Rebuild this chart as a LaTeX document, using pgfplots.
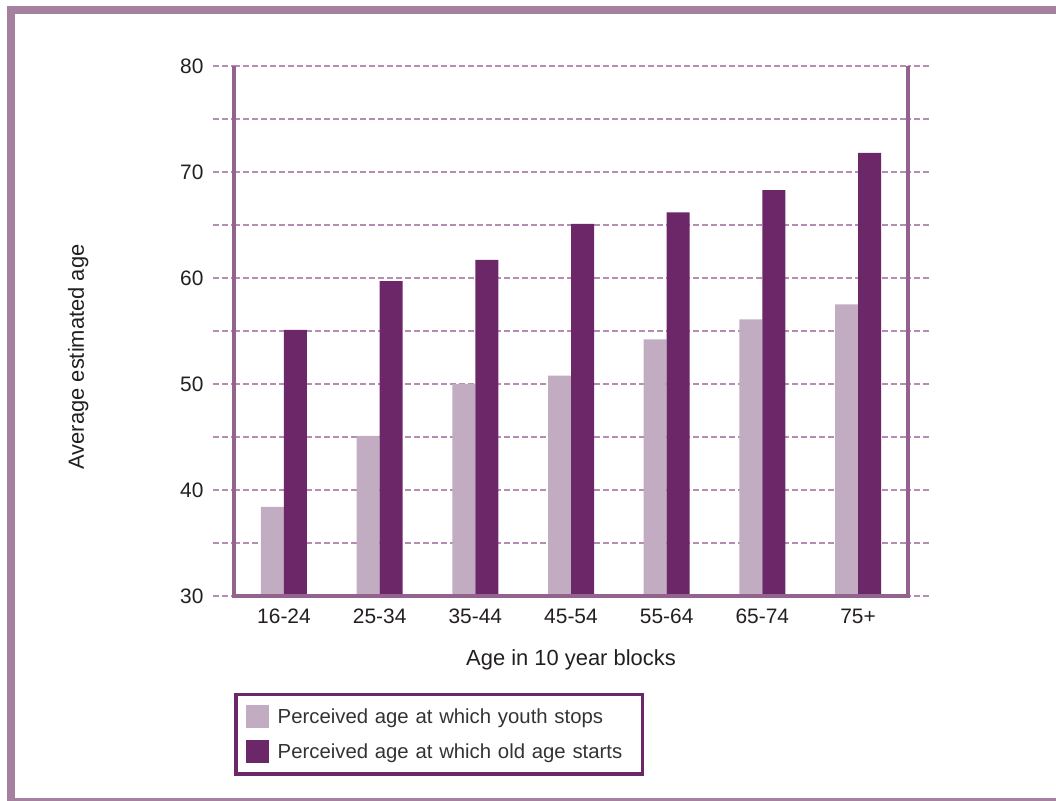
\documentclass[border=0pt]{standalone}
\usepackage{fontspec}
\setmainfont{Liberation Sans}
\usepackage{pgfplots}
\pgfplotsset{compat=1.18}

\definecolor{framec}{HTML}{A6809F}
\definecolor{axisc}{HTML}{93628F}
\definecolor{gridc}{HTML}{B68DB2}
\definecolor{youthc}{HTML}{C2ACC1}
\definecolor{oldc}{HTML}{6B2768}
\definecolor{textc}{HTML}{231F20}
\definecolor{legtextc}{HTML}{333333}

\begin{document}
\begin{tikzpicture}
\useasboundingbox (0,0) rectangle (1056bp,801bp);
\clip (0,0) rectangle (1056bp,801bp);
% page frame (runs off the right and bottom edges)
\draw[framec, line width=8bp] (1070bp,791bp) -- (11bp,791bp) -- (11bp,-1bp) -- (1070bp,-1bp);

\begin{axis}[
  at={(234bp,205bp)}, anchor=south west,
  scale only axis, width=674bp, height=530bp,
  xmin=-0.5226, xmax=6.5226, ymin=30, ymax=80,
  ybar=0pt, bar width=23bp,
  xtick={0,...,6},
  xticklabels={16-24,25-34,35-44,45-54,55-64,65-74,75+},
  ytick={30,40,...,80},
  minor ytick={35,45,...,75},
  ymajorgrids, yminorgrids,
  grid style={gridc, line width=1.2bp, dash pattern=on 6bp off 3bp},
  minor grid style={gridc, line width=1.2bp, dash pattern=on 6bp off 3bp},
  axis line style={draw=none},
  tick align=outside, ytick pos=both, yticklabel pos=left,
  major tick length=21bp, minor tick length=21bp,
  tick style={gridc, line width=1.2bp, dash pattern=on 6bp off 3bp},
  xtick style={draw=none},
  /pgf/number format/assume math mode=true,
  ticklabel style={font=\fontsize{21}{25}\selectfont, text=textc},
  xticklabel style={anchor=north, text height=15bp, text depth=0bp, yshift=12.5bp},
  yticklabel style={xshift=-6bp},
  xlabel={Age in 10 year blocks},
  ylabel={Average estimated age},
  every axis x label/.style={at={(axis description cs:0.5,-0.1208)}, anchor=center,
    font=\fontsize{22}{26}\selectfont, text=textc},
  every axis y label/.style={at={(axis description cs:-0.231,0.451)}, anchor=center,
    rotate=90, font=\fontsize{22}{26}\selectfont, text=textc},
  legend style={
    at={(axis description cs:0,-0.1825)}, anchor=north west,
    draw=oldc, line width=3.5bp, fill=white,
    font=\fontsize{20.4}{24}\selectfont, text=legtextc,
    inner xsep=10bp, inner ysep=10.5bp, row sep=12.5bp,
    nodes={text width=353bp, align=left},
    /tikz/every odd column/.append style={column sep=7bp}},
  legend cell align=left,
  legend image code/.code={\fill[#1, draw=none] (0bp,-11.5bp) rectangle (23bp,11.5bp);},
]
\addplot[fill=youthc, draw=none] coordinates {
  (0,38.4) (1,45.1) (2,50.0) (3,50.8) (4,54.2) (5,56.1) (6,57.5)};
\addplot[fill=oldc, draw=none] coordinates {
  (0,55.1) (1,59.7) (2,61.7) (3,65.1) (4,66.2) (5,68.3) (6,71.8)};
\legend{Perceived age at which youth stops, Perceived age at which old age starts}

\coordinate (tl) at (rel axis cs:0,1);
\coordinate (bl) at (rel axis cs:0,0);
\coordinate (br) at (rel axis cs:1,0);
\coordinate (tr) at (rel axis cs:1,1);
\end{axis}

% axis frame on three sides, drawn over the bars
\draw[axisc, line width=4.5bp] (tl) -- (bl) -- (br) -- (tr);
\end{tikzpicture}
\end{document}
